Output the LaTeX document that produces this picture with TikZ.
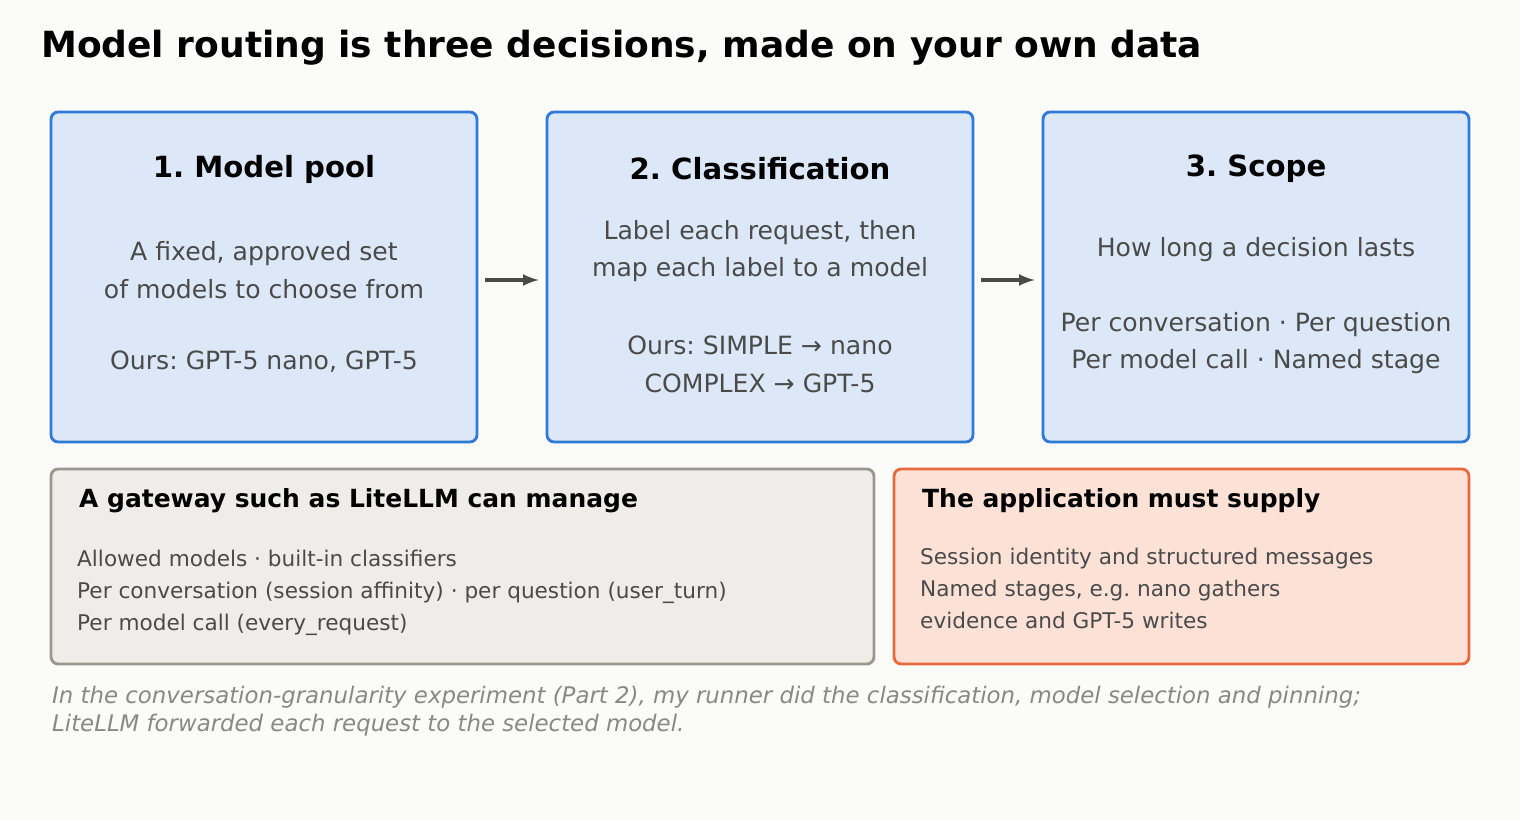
\documentclass[tikz,border=0pt]{standalone}
\usepackage{fontspec}
\setmainfont{DejaVu Sans}
\usetikzlibrary{positioning}
\definecolor{bgc}{HTML}{FBFBF9}
\definecolor{cardfill}{HTML}{DCE8F7}
\definecolor{carddraw}{HTML}{2E7AD6}
\definecolor{grayfill}{HTML}{EFEDE9}
\definecolor{graydraw}{HTML}{9A978E}
\definecolor{orfill}{HTML}{FCE1D7}
\definecolor{ordraw}{HTML}{E8693A}
\definecolor{bodytext}{HTML}{4A4A4A}
\definecolor{notetext}{HTML}{888888}
\frenchspacing
\begin{document}
\begin{tikzpicture}[x=0.02cm,y=-0.02cm,
    card/.style={draw=carddraw,fill=cardfill,line width=1.6pt,rounded corners=4pt,
      minimum width=8.52cm,minimum height=6.6cm,inner sep=0pt},
    gwbox/.style={draw=graydraw,fill=grayfill,line width=1.6pt,rounded corners=4pt,
      minimum width=16.46cm,minimum height=3.9cm,inner sep=0pt},
    appbox/.style={draw=ordraw,fill=orfill,line width=1.6pt,rounded corners=4pt,
      minimum width=11.5cm,minimum height=3.9cm,inner sep=0pt},
    cardtitle/.style={font=\bfseries\fontsize{16.6}{19}\selectfont},
    cardtext/.style={align=center,text=bodytext,font=\fontsize{14.3}{21.5}\selectfont},
    boxhead/.style={anchor=west,font=\bfseries\fontsize{14.2}{16}\selectfont},
    boxtext/.style={anchor=north west,align=left,text=bodytext,font=\fontsize{12.3}{18.3}\selectfont},
    arr/.style={-latex,line width=2pt,draw=bodytext}
  ]
  \fill[bgc] (0,0) rectangle (1520,820);
  \useasboundingbox (0,0) rectangle (1520,820);
  \node[anchor=west,font=\bfseries\fontsize{20.5}{24}\selectfont] (title) at (35,48)
    {Model routing is three decisions, made on your own data};
  % the three decisions
  \node[card] (pool) at (264,277) {};
  \node[card] (class) at (760,277) {};
  \node[card] (scope) at (1256,277) {};
  \node[cardtitle] (pooltitle) at (264,169) {1. Model pool};
  \node[cardtitle] (classtitle) at (760,169) {2. Classification};
  \node[cardtitle] (scopetitle) at (1256,169) {3. Scope};
  \node[cardtext] (pooltext) at (264,270) {A fixed, approved set\\of models to choose from};
  \node[cardtext] (poolours) at (264,362) {Ours: GPT-5 nano, GPT-5};
  \node[cardtext] (classtext) at (760,251) {Label each request, then\\map each label to a model};
  \node[cardtext] (classours) at (760,364) {Ours: SIMPLE → nano\\COMPLEX → GPT-5};
  \node[cardtext] (scopetext) at (1256,250) {How long a decision lasts};
  \node[cardtext] (scopelist) at (1256,343) {Per conversation · Per question\\Per model call · Named stage};
  \draw[arr,shorten <=4pt,shorten >=4pt] (pool.east |- 0,280) -- (class.west |- 0,280);
  \draw[arr,shorten <=4pt,shorten >=4pt] (class.east |- 0,280) -- (scope.west |- 0,280);
  % who does what
  \node[gwbox] (gw) at (462.5,566.5) {};
  \node[appbox] (app) at (1181.5,566.5) {};
  \node[boxhead] (gwhead) at (73,501) {A gateway such as LiteLLM can manage};
  \node[boxhead] (apphead) at (916,501) {The application must supply};
  \node[boxtext] (gwtext) at (71,544) {Allowed models · built-in classifiers\\Per conversation (session affinity) · per question (user\_turn)\\Per model call (every\_request)};
  \node[boxtext] (apptext) at (914,542) {Session identity and structured messages\\Named stages, e.g. nano gathers\\evidence and GPT-5 writes};
  \node[anchor=north west,align=left,text=notetext,font=\itshape\fontsize{13}{16}\selectfont] (note) at (46,680)
    {In the conversation-granularity experiment (Part 2), my runner did the classification, model selection and pinning;\\LiteLLM forwarded each request to the selected model.};
\end{tikzpicture}
\end{document}
